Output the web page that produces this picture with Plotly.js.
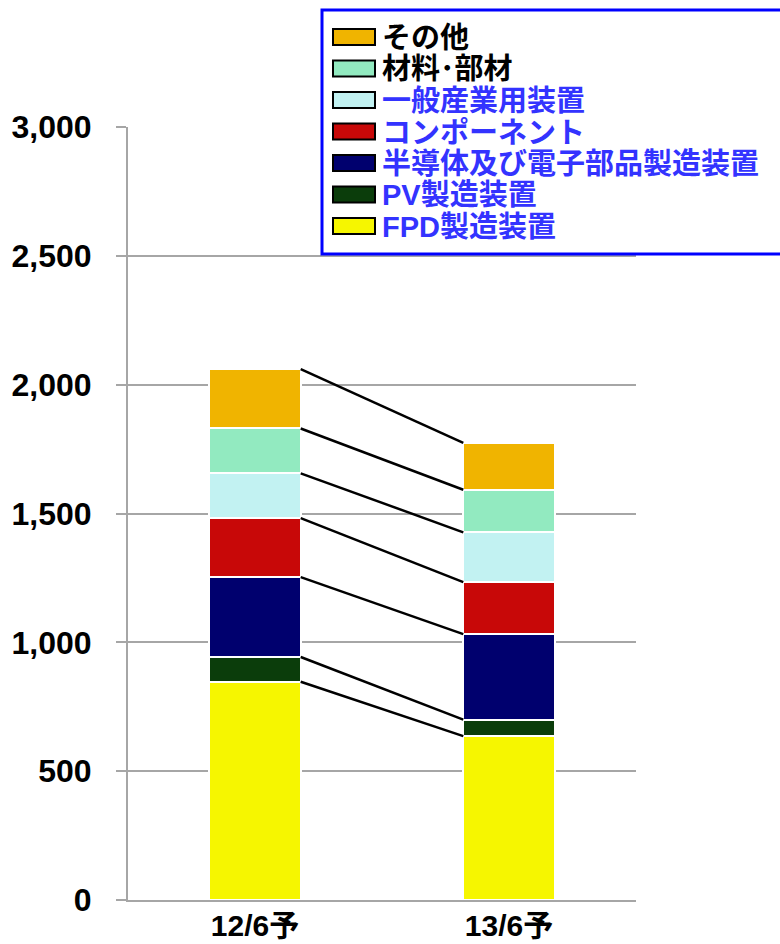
<!DOCTYPE html>
<html>
<head>
<meta charset="utf-8">
<script src="https://cdn.plot.ly/plotly-3.0.1.min.js"></script>
<style>html,body{margin:0;padding:0;background:#fff;}#chart{width:780px;height:944px;}</style>
</head>
<body>
<div id="chart"></div>
<script>
// ---- data ----
const categories = ['12/6予', '13/6予'];
const seriesNames = ['FPD製造装置', 'PV製造装置', '半導体及び電子部品製造装置', 'コンポーネント', '一般産業用装置', '材料･部材', 'その他'];
const fpd = [847, 636];
const pv = [96, 64];
const semi = [310, 332];
const comp = [229, 202];
const general = [174, 193];
const materials = [174, 165];
const other = [230, 182];
const yTickVals = [0, 500, 1000, 1500, 2000, 2500, 3000];

// ---- styles ----
const seriesValues = [fpd, pv, semi, comp, general, materials, other];
const barColors = ['#f6f600', '#0b3d0b', '#00006e', '#c80808', '#c2f2f2', '#92eac0', '#f0b400'];
const legendTextColors = ['#3333ff', '#3333ff', '#3333ff', '#3333ff', '#3333ff', '#000000', '#000000'];
const FONT = "'Liberation Sans', Arial, 'Noto Sans CJK JP', sans-serif";
const barWidth = 0.36;
const xPos = categories.map((c, i) => i);

// plot area geometry (pixels) used for placing the legend box
const M = { l: 128, r: 144, t: 127, b: 44 };
const W = 780, H = 944;
const pw = W - M.l - M.r, ph = H - M.t - M.b;
const px = (x) => (x - M.l) / pw;
const py = (y) => (H - M.b - y) / ph;

const traces = [];
seriesNames.forEach((n, k) => {
  traces.push({
    type: 'bar',
    x: xPos,
    y: seriesValues[k],
    width: barWidth,
    name: n,
    marker: { color: barColors[k], line: { color: '#ffffff', width: 2 } },
    showlegend: false,
    hoverinfo: 'y'
  });
});

// connector lines at each segment top
let cum = categories.map(() => 0);
seriesValues.forEach((vals) => {
  cum = cum.map((c, i) => c + vals[i]);
  traces.push({
    type: 'scatter', mode: 'lines',
    x: [xPos[0] + barWidth / 2, xPos[1] - barWidth / 2],
    y: [cum[0], cum[1]],
    line: { color: '#000000', width: 2.5 },
    showlegend: false, hoverinfo: 'skip'
  });
});

// custom legend (box + swatches + labels), top item = last series
const shapes = [{
  type: 'rect', xref: 'paper', yref: 'paper',
  x0: px(322), x1: px(800), y0: py(10), y1: py(254),
  line: { color: '#0000ff', width: 3 }, fillcolor: '#ffffff', layer: 'above'
}];
const annotations = [];
const rowTop = 37, rowStep = 31.5;
for (let r = 0; r < seriesNames.length; r++) {
  const k = seriesNames.length - 1 - r;
  const cy = rowTop + r * rowStep;
  shapes.push({
    type: 'rect', xref: 'paper', yref: 'paper',
    x0: px(333), x1: px(375), y0: py(cy - 8), y1: py(cy + 8),
    line: { color: '#000000', width: 2 }, fillcolor: barColors[k], layer: 'above'
  });
  annotations.push({
    xref: 'paper', yref: 'paper', x: px(380), y: py(cy + 1),
    xanchor: 'left', yanchor: 'middle', showarrow: false,
    text: seriesNames[k],
    font: { family: FONT, size: 29, weight: 'bold', color: legendTextColors[k] }
  });
}

const layout = {
  width: W, height: H,
  margin: M,
  paper_bgcolor: '#ffffff', plot_bgcolor: '#ffffff',
  barmode: 'stack',
  font: { family: FONT, weight: 'bold', color: '#000000' },
  showlegend: false,
  shapes: shapes,
  annotations: annotations,
  xaxis: {
    type: 'linear', range: [-0.5, 1.5],
    tickvals: xPos, ticktext: categories,
    tickfont: { family: FONT, size: 30, weight: 'bold', color: '#000' },
    showgrid: false, zeroline: false,
    showline: true, linecolor: '#a6a6a6', linewidth: 2,
    ticks: '', ticklabelstandoff: -2, fixedrange: true
  },
  yaxis: {
    range: [0, 3000],
    tickvals: yTickVals, tickformat: ',d',
    tickfont: { family: FONT, size: 32, weight: 'bold', color: '#000' },
    showgrid: true, gridcolor: '#a6a6a6', gridwidth: 2,
    zeroline: false,
    showline: true, linecolor: '#a6a6a6', linewidth: 2,
    ticks: 'outside', ticklen: 10, tickcolor: '#a6a6a6', tickwidth: 2,
    ticklabelstandoff: 18, fixedrange: true
  }
};

Plotly.newPlot('chart', traces, layout, { displayModeBar: false, staticPlot: true });
</script>
</body>
</html>
